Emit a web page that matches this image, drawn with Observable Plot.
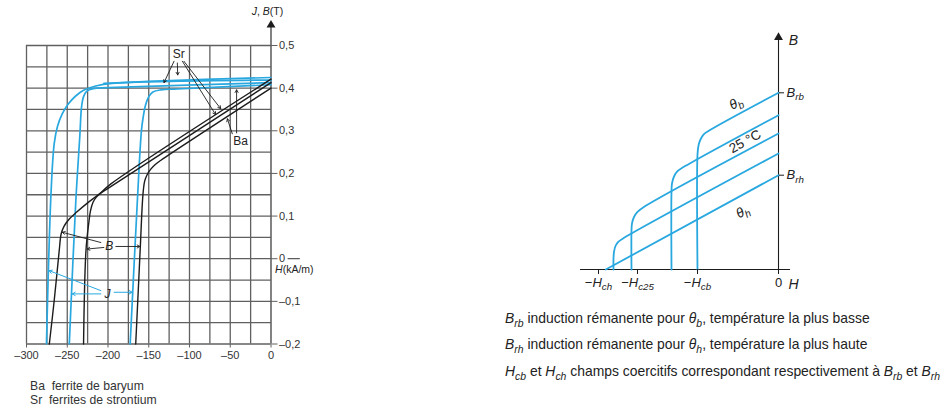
<!DOCTYPE html>
<html><head><meta charset="utf-8">
<script src="https://cdn.jsdelivr.net/npm/d3@7"></script>
<script src="https://cdn.jsdelivr.net/npm/@observablehq/plot@0.6"></script>
<style>
body{margin:0;background:#fff;font-family:"Liberation Sans",Arial,sans-serif;}
#wrap{position:relative;width:945px;height:412px;overflow:hidden;background:#fff;}
#left{position:absolute;left:0;top:0;}
#right{position:absolute;left:480px;top:0;}
.legend{position:absolute;left:30px;font-size:12.2px;color:#333;white-space:pre;line-height:14px;}
.cap{position:absolute;left:505px;font-size:13.9px;color:#222;white-space:nowrap;line-height:21.5px;}
sub{font-size:75%;}
</style></head><body>
<div id="wrap"><div id="left"></div><div id="right"></div>
<div class="legend" id="legend" style="top:379px"></div>
<div class="cap" id="cap" style="top:308px"></div>
</div>
<script>
// ---------- LEFT PANEL DATA (H in kA/m, J or B in T) ----------
const gridH = [-300,-275,-250,-225,-200,-175,-150,-125,-100,-75,-50,-25];
const gridB = [-0.2,-0.15,-0.1,-0.05,0,0.05,0.1,0.15,0.2,0.25,0.3,0.35,0.4,0.45,0.5];
const xTicks = [-300,-250,-200,-150,-100,-50,0];
const yTicks = [-0.2,-0.1,0,0.1,0.2,0.3,0.4,0.5];

// J curves (strontium ferrites, blue)
const jLeftH  = [-275.5,-270,-266,-262,-256,-249,-240,-230,-215,-195,0];
const jLeftJ  = [-0.2,0.15,0.27,0.31,0.34,0.362,0.381,0.395,0.405,0.411,0.419];
const jMidH   = [-247.5,-239.5,-234.5,-232.5,-230,-226,-218,-200,0];
const jMidJ   = [-0.2,0.135,0.29,0.355,0.38,0.393,0.399,0.401,0.413];
const jRightH = [-172.8,-164,-159,-157,-154,-150,-145,-135,-115,0];
const jRightJ = [-0.2,0.135,0.30,0.33,0.36,0.38,0.391,0.396,0.398,0.408];
const jUpperH = [-205,-150,0];
const jUpperJ = [0.411,0.416,0.425];
// B curves (black)
const bLeftH  = [0,-196,-210,-225,-238,-248,-254,-257.5,-259.8,-266,-272];
const bLeftB  = [0.421,0.176,0.153,0.131,0.110,0.092,0.076,0.058,0.02,-0.098,-0.2];
const bMidH   = [0,-200,-208,-214,-218.5,-221.5,-223.3,-227,-230];
const bMidB   = [0.413,0.165,0.155,0.145,0.132,0.112,0.088,0.02,-0.2];
const bRightH = [0,-135,-142,-147.5,-152,-155,-156.5,-157.7,-160.3,-163,-166];
const bRightB = [0.400,0.231,0.221,0.21,0.197,0.182,0.163,0.135,0.03,-0.08,-0.2];

// annotations (left)
const leftLabels = [
  {t:"Sr", H:-113.3, B:0.479},
  {t:"Ba", H:-37.3, B:0.276},
  {t:"*B*", H:-198.6, B:0.029},
  {t:"*J*", H:-200.6, B:-0.0825},
  {t:"*J*, *B*(T)", H:-4.3, B:0.579, s:10.5}
];
const leftAxisLabel = [{t:"*H*(kA/m)", H:5, B:-0.026}];
const blackArrows = [
  {H1:-119,B1:0.463,H2:-131.3,B2:0.413},
  {H1:-114.9,B1:0.459,H2:-114.5,B2:0.431},
  {H1:-106.8,B1:0.463,H2:-61.8,B2:0.352},
  {H1:-108.7,B1:0.463,H2:-68,B2:0.338},
  {H1:-42.2,B1:0.295,H2:-42.2,B2:0.396},
  {H1:-47.5,B1:0.293,H2:-53.5,B2:0.328},
  {H1:-208.8,B1:0.038,H2:-256,B2:0.062},
  {H1:-205.1,B1:0.0264,H2:-225.5,B2:0.0227},
  {H1:-190.4,B1:0.0287,H2:-161,B2:0.0287}
];
const blueArrows = [
  {H1:-208.8,B1:-0.0748,H2:-272.3,B2:-0.028},
  {H1:-208.8,B1:-0.0825,H2:-243.8,B2:-0.0825},
  {H1:-192.5,B1:-0.0787,H2:-170.3,B2:-0.0787}
];
const leftAxisTop = 0.548;
const zeroLineExt = [21, 36];
const legendLines = ["Ba  ferrite de baryum","Sr  ferrites de strontium"];

// ---------- RIGHT PANEL DATA (schematic units) ----------
const rThetaBH = [0,-70,-75,-78,-80,-81,-81];
const rThetaBB = [176.7,138.5,134.8,130,124,115,0];
const rC2H = [0,-95,-101,-104.5,-106.5,-107,-107];
const rC2B = [154.3,102.4,98.3,93,86,78,0];
const r25H = [0,-135,-141,-144.5,-146.5,-147,-147];
const r25B = [136,62.3,57.6,52.5,46,39,0];
const rC4H = [0,-154,-160,-163,-164.5,-165,-165];
const rC4B = [116,31.9,27.8,23.5,17.5,11,0];
const rThetaHH = [0,-172.7];
const rThetaHB = [94.3,0];
const rTicksH = [-176,-147,-81,0];
const rTickLabelsH = ["−*H*_{ch}","−*H*_{c25}","−*H*_{cb}","0"];
const rTicksB = [176.7,94.3];
const rTickLabelsB = ["*B*_{rb}","*B*_{rh}"];
const rCurveLabels = [
  {t:"*θ*_{b}", H:-42.7, B:166.5},
  {t:"25 °C", H:-33.5, B:128},
  {t:"*θ*_{h}", H:-36, B:58}
];
const rAxisLabels = [{t:"*B*", H:15, B:229},{t:"*H*", H:15, B:-15}];
const rAxisTop = 230, rAxisX = [-198, 12];
const captions = [
  "*B*_{rb} induction rémanente pour *θ*_{b}, température la plus basse",
  "*B*_{rh} induction rémanente pour *θ*_{h}, température la plus haute",
  "*H*_{cb} et *H*_{ch} champs coercitifs correspondant respectivement à *B*_{rb} et *B*_{rh}"
];

// ---------- helpers ----------
const FONT = '"Liberation Sans", Arial, sans-serif';
const blue = "#29a8e0", ink = "#1c1c1c", gridColor = "#606060";
const rows = (id, H, V) => H.map((h, i) => ({id, H: h, V: V[i]}));
const fmtY = d => d === 0 ? "0" : (d < 0 ? "–" : "") + Math.abs(d).toFixed(1).replace(".", ",");
const fmtX = d => d === 0 ? "0" : (d < 0 ? "–" : "") + Math.abs(d);
const fmtRH = d => rTickLabelsH[rTicksH.indexOf(d)];

function rich(svg, sub) {
  d3.select(svg).selectAll("text").each(function() {
    if (this.querySelector("tspan")) return;
    const s = this.textContent;
    if (!/[*_]/.test(s)) return;
    const parts = s.split(/(\*[^*]+\*|_\{[^}]+\})/).filter(p => p !== "");
    this.textContent = "";
    const sel = d3.select(this);
    let shifted = false;
    for (const p of parts) {
      const t = sel.append("tspan");
      if (p.startsWith("_{")) {
        t.text(p.slice(2, -1)).attr("font-style", "italic").attr("font-size", "75%").attr("dy", sub);
        shifted = true;
      } else {
        if (p.startsWith("*")) t.text(p.slice(1, -1)).attr("font-style", "italic");
        else t.text(p);
        if (shifted) { t.attr("dy", -sub); shifted = false; }
      }
    }
  });
}
function richHTML(s) {
  return s.replace(/\*([^*]+)\*/g, "<i>$1</i>").replace(/_\{([^}]+)\}/g, "<sub><i>$1</i></sub>");
}

// ---------- LEFT PLOT ----------
const jData = [...rows("J1", jLeftH, jLeftJ), ...rows("J2", jMidH, jMidJ), ...rows("J3", jRightH, jRightJ), ...rows("J4", jUpperH, jUpperJ)];
const bData = [...rows("B1", bLeftH, bLeftB), ...rows("B2", bMidH, bMidB), ...rows("B3", bRightH, bRightB)];

const left = Plot.plot({
  width: 345, height: 375,
  marginLeft: 26, marginRight: 74.5, marginTop: 45, marginBottom: 31.5,
  x: {domain: [-300, 0]}, y: {domain: [-0.2, 0.5]},
  style: {fontFamily: FONT, fontSize: "11px", color: "#333", background: "transparent"},
  marks: [
    Plot.ruleX(gridH, {x: d => d, y1: -0.2, y2: 0.5, stroke: gridColor, strokeWidth: 1.3}),
    Plot.ruleY(gridB, {y: d => d, x1: -300, x2: 0, stroke: gridColor, strokeWidth: 1.3}),
    Plot.ruleY([0], {y: d => d, x1: zeroLineExt[0], x2: zeroLineExt[1], stroke: "#333", strokeWidth: 1}),
    Plot.axisX(xTicks, {anchor: "bottom", tickSize: 4, tickPadding: 3, tickFormat: fmtX, stroke: gridColor, label: null}),
    Plot.axisY(yTicks, {anchor: "right", tickSize: 6, tickPadding: 2, tickFormat: fmtY, stroke: gridColor, label: null}),
    Plot.ruleX([0], {x: d => d, y1: -0.2, y2: leftAxisTop, stroke: ink, strokeWidth: 1.1}),
    Plot.dot([0], {x: d => d, y: () => leftAxisTop, symbol: "triangle", r: 3.3, fill: ink}),
    Plot.line(jData, {x: "H", y: "V", z: "id", stroke: blue, strokeWidth: 1.7, curve: "catmull-rom"}),
    Plot.line(bData, {x: "H", y: "V", z: "id", stroke: ink, strokeWidth: 1.4, curve: "catmull-rom"}),
    Plot.arrow(blackArrows, {x1: "H1", y1: "B1", x2: "H2", y2: "B2", stroke: ink, strokeWidth: 0.9, headLength: 5}),
    Plot.arrow(blueArrows, {x1: "H1", y1: "B1", x2: "H2", y2: "B2", stroke: blue, strokeWidth: 1, headLength: 5}),
    Plot.text(leftLabels, {x: "H", y: "B", text: "t", fontSize: d => d.s || 12, fill: "#222"}),
    Plot.text(leftAxisLabel, {x: "H", y: "B", text: "t", fontSize: 10.5, textAnchor: "start", fill: "#222"})
  ]
});
rich(left, 2.5);
document.getElementById("left").append(left);

// ---------- RIGHT PLOT ----------
const rData = [...rows("θb", rThetaBH, rThetaBB), ...rows("c2", rC2H, rC2B), ...rows("25", r25H, r25B), ...rows("c4", rC4H, rC4B), ...rows("θh", rThetaHH, rThetaHB)];
const right = Plot.plot({
  width: 360, height: 300,
  marginLeft: 98, marginRight: 62, marginTop: 34, marginBottom: 31,
  x: {domain: [-200, 0]}, y: {domain: [0, 235]},
  style: {fontFamily: FONT, fontSize: "13px", color: "#222", background: "transparent"},
  marks: [
    Plot.ruleY([0], {y: d => d, x1: rAxisX[0], x2: rAxisX[1], stroke: ink, strokeWidth: 1.1}),
    Plot.ruleX([0], {x: d => d, y1: 0, y2: rAxisTop, stroke: ink, strokeWidth: 1.1}),
    Plot.dot([0], {x: d => d, y: () => rAxisTop + 2, symbol: "triangle", r: 3.3, fill: ink}),
    Plot.line(rData, {x: "H", y: "V", z: "id", stroke: blue, strokeWidth: 1.8, curve: "catmull-rom"}),
    Plot.axisX(rTicksH.slice(0, 1), {anchor: "bottom", tickSize: 5, tickPadding: 3, tickFormat: fmtRH, stroke: ink, label: null, dx: -4}),
    Plot.axisX(rTicksH.slice(1, 2), {anchor: "bottom", tickSize: 5, tickPadding: 3, tickFormat: fmtRH, stroke: ink, label: null, dx: 6}),
    Plot.axisX(rTicksH.slice(2), {anchor: "bottom", tickSize: 5, tickPadding: 3, tickFormat: fmtRH, stroke: ink, label: null}),
    Plot.axisY(rTicksB, {anchor: "right", tickSize: 5, tickPadding: 3, tickFormat: (d, i) => rTickLabelsB[i], stroke: ink, label: null}),
    Plot.text(rCurveLabels, {x: "H", y: "B", text: "t", rotate: -28.6, fontSize: 13.5, fill: "#222"}),
    Plot.text(rAxisLabels, {x: "H", y: "B", text: "t", fontSize: 14, fill: "#222"})
  ]
});
rich(right, 3.5);
document.getElementById("right").append(right);

// ---------- HTML texts ----------
document.getElementById("legend").innerHTML = legendLines.join("\n");
document.getElementById("cap").innerHTML = captions.map(richHTML).join("<br>");
</script>
</body></html>
